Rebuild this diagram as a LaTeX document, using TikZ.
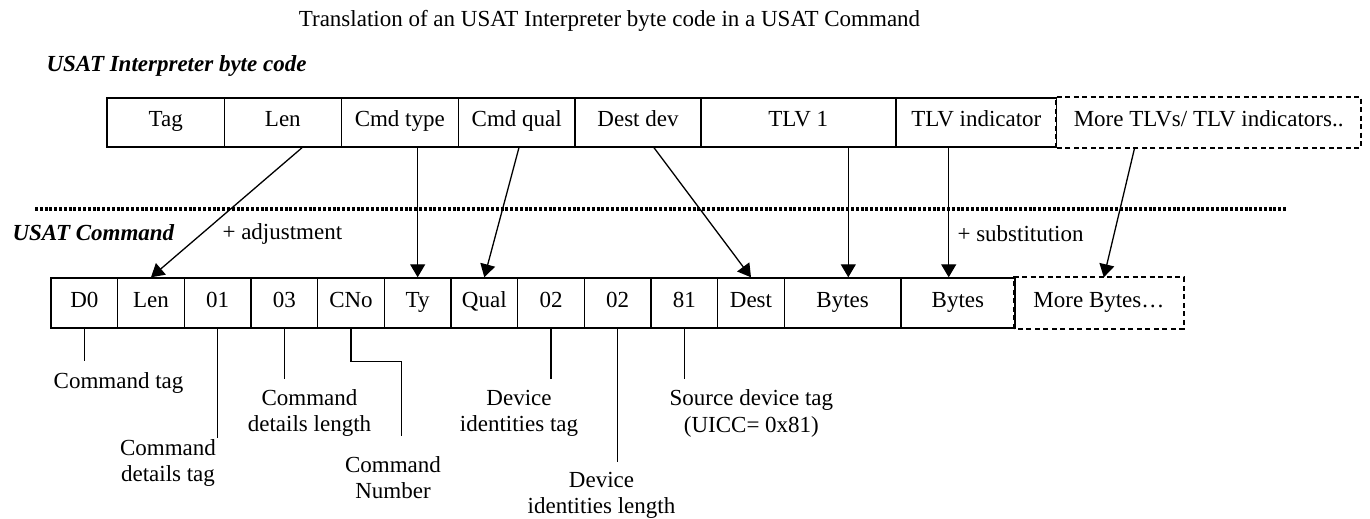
\documentclass[tikz,border=0pt]{standalone}
\usepackage{fontspec}
\setmainfont{Liberation Serif}
\usetikzlibrary{arrows.meta,calc}
\begin{document}
\begin{tikzpicture}[x=1pt,y=-1pt,
  every node/.style={font=\fontsize{23}{26.5}\selectfont},
  tcell/.style={draw,line width=1.4pt,inner sep=0pt,minimum height=49pt,minimum width=#1,text height=14pt,text depth=6pt},
  bcell/.style={draw,line width=1.4pt,inner sep=0pt,minimum height=50pt,minimum width=#1,text height=14pt,text depth=6pt},
  dashbox/.style={dash pattern=on 5pt off 3.5pt,line width=1.8pt},
  arr/.style={line width=1.3pt,-{Triangle[length=13pt,width=15pt]}},
  lead/.style={line width=1.2pt},
  lab/.style={align=center,inner sep=0pt,anchor=base},
  head/.style={anchor=base west,font=\fontsize{23}{26.5}\selectfont\bfseries\itshape}]
\useasboundingbox (0,0) rectangle (1370,519);
% title and headings
\node[anchor=base] (title) at (609.5,27) {Translation of an USAT Interpreter byte code in a USAT Command};
\node[head] (hbc) at (43,71.5) {USAT Interpreter byte code};
\node[head] (hcmd) at (9,240) {USAT Command};
\node[anchor=base west] (adj) at (219,239) {+ adjustment};
\node[anchor=base west] (subst) at (954,241) {+ substitution};
% top row
\node[tcell=117.5] (ttag) at (165.75,122.5) {Tag};
\node[tcell=116.7] (tlen) at (282.85,122.5) {Len};
\node[tcell=117.2] (ttype) at (399.8,122.5) {Cmd type};
\node[tcell=116.7] (tqual) at (516.75,122.5) {Cmd qual};
\node[tcell=126] (tdest) at (638,122.5) {Dest dev};
\node[tcell=195.2] (ttlv) at (798.3,122.5) {TLV 1};
\node[tcell=160.8] (tind) at (976.3,122.5) {TLV indicator};
\node[tcell=303.9,draw=none] (tmore) at (1208.65,122.5) {More TLVs/ TLV indicators..};
\draw[dashbox] (tmore.south west) rectangle (tmore.north east);
% dotted separator
\coordinate (dl) at (35,209);
\coordinate (dr) at (1287,209);
\draw[line width=3.2pt,dash pattern=on 3pt off 1.8pt] (dl) -- (dr);
% bottom row
\node[bcell=66.67] (bd0) at (84.33,303) {D0};
\node[bcell=66.67] (blen) at (151,303) {Len};
\node[bcell=66.67] (b01) at (217.67,303) {01};
\node[bcell=66.67] (b03) at (284.33,303) {03};
\node[bcell=66.67] (bcno) at (351,303) {CNo};
\node[bcell=66.67] (bty) at (417.67,303) {Ty};
\node[bcell=66.67] (bqual) at (484.33,303) {Qual};
\node[bcell=66.67] (b02a) at (551,303) {02};
\node[bcell=66.67] (b02b) at (617.67,303) {02};
\node[bcell=66.67] (b81) at (684.33,303) {81};
\node[bcell=66.6] (bdest) at (751,303) {Dest};
\node[bcell=116.7] (bbytA) at (842.65,303) {Bytes};
\node[bcell=113.8] (bbytB) at (957.9,303) {Bytes};
\node[bcell=168.2,draw=none] (bmore) at (1098.9,303) {More Bytes…};
\draw[dashbox] (bmore.south west) rectangle (bmore.north east);
% arrows
\draw[arr] ([xshift=19.2pt]tlen.south) -- (blen.north);
\draw[arr] (ttype.south -| bty.north) -- (bty.north);
\draw[arr] ([xshift=2.2pt]tqual.south) -- (bqual.north);
\draw[arr] ([xshift=16pt]tdest.south) -- (bdest.north);
\draw[arr] ([xshift=50pt]ttlv.south) -- ([xshift=50pt]ttlv.south |- bbytA.north);
\draw[arr] ([xshift=-27.6pt]tind.south) -- ([xshift=-27.6pt]tind.south |- bbytB.north);
\draw[arr] ([xshift=-74pt]tmore.south) -- ([xshift=4.9pt]bmore.north);
% labels (base = baseline of last line)
\node[lab] (l0) at (118.5,388.5) {Command tag};
\node[lab] (l01) at (168,481.5) {Command\\details tag};
\node[lab] (l03) at (309.5,431.5) {Command\\details length};
\node[lab] (lcno) at (393,498.5) {Command\\Number};
\node[lab] (l02a) at (519,431.5) {Device\\identities tag};
\node[lab] (l02b) at (601.5,513.5) {Device\\identities length};
\node[lab] (l81) at (751.4,432) {Source device tag\\(UICC= 0x81)};
% leader lines
\draw[lead] (bd0.south) -- ++(0,32);
\draw[lead] (b01.south) -- ++(0,109);
\draw[lead] (b03.south) -- ++(0,50);
\draw[lead] (bcno.south) -- ++(0,33) -- ++(50.7,0) -- ++(0,74);
\draw[lead] (b02a.south) -- ++(0,50);
\draw[lead] (b02b.south) -- ++(0,133);
\draw[lead] (b81.south) -- ++(0,50);
\end{tikzpicture}
\end{document}
